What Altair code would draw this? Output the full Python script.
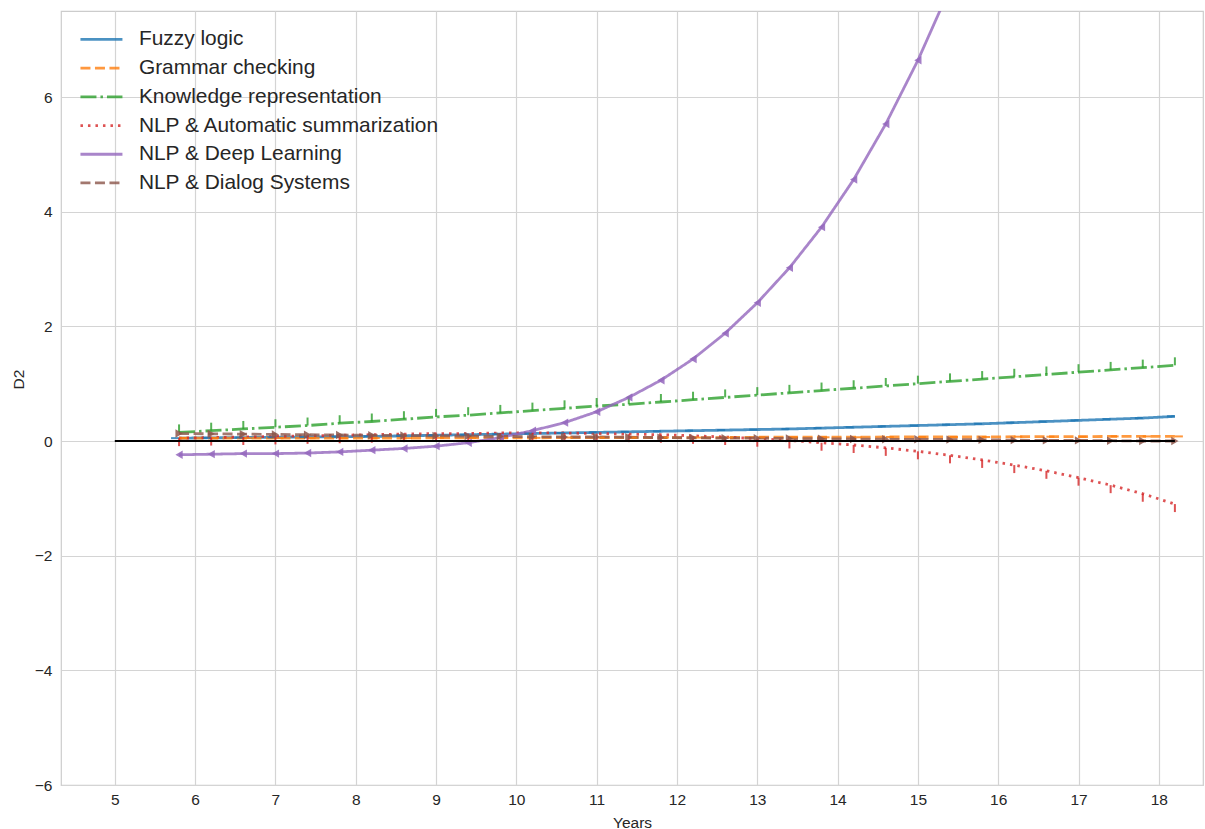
import altair as alt
import pandas as pd

years = [5.8, 6.2, 6.6, 7.0, 7.4, 7.8, 8.2, 8.6, 9.0, 9.4, 9.8, 10.2, 10.6, 11.0, 11.4, 11.8,
         12.2, 12.6, 13.0, 13.4, 13.8, 14.2, 14.6, 15.0, 15.4, 15.8, 16.2, 16.6, 17.0, 17.4, 17.8, 18.2]

series_names = ["Fuzzy logic", "Grammar checking", "Knowledge representation",
                "NLP & Automatic summarization", "NLP & Deep Learning", "NLP & Dialog Systems"]

fuzzy_logic = [0.05, 0.055, 0.06, 0.065, 0.07, 0.075, 0.08, 0.09, 0.10, 0.11, 0.12, 0.13, 0.14, 0.15, 0.16, 0.17,
               0.18, 0.19, 0.20, 0.21, 0.225, 0.24, 0.255, 0.27, 0.285, 0.30, 0.32, 0.34, 0.36, 0.38, 0.40, 0.43]
grammar_checking = [0.05, 0.05, 0.05, 0.05, 0.05, 0.05, 0.05, 0.05, 0.055, 0.055, 0.055, 0.055, 0.06, 0.06, 0.06, 0.06,
                    0.06, 0.06, 0.065, 0.065, 0.065, 0.065, 0.07, 0.07, 0.07, 0.07, 0.075, 0.075, 0.075, 0.08, 0.08, 0.08]
knowledge_repr = [0.15, 0.18, 0.21, 0.24, 0.27, 0.31, 0.34, 0.38, 0.42, 0.45, 0.49, 0.53, 0.57, 0.61, 0.64, 0.68,
                  0.72, 0.76, 0.80, 0.84, 0.88, 0.92, 0.96, 1.00, 1.04, 1.08, 1.12, 1.16, 1.20, 1.24, 1.28, 1.32]
auto_summarization = [0.05, 0.06, 0.07, 0.08, 0.09, 0.10, 0.11, 0.12, 0.13, 0.13, 0.14, 0.14, 0.14, 0.13, 0.12, 0.11,
                      0.09, 0.07, 0.04, 0.01, -0.03, -0.07, -0.12, -0.18, -0.25, -0.33, -0.42, -0.52, -0.64, -0.77, -0.92, -1.10]
deep_learning = [-0.24, -0.23, -0.22, -0.22, -0.21, -0.19, -0.16, -0.13, -0.09, -0.03, 0.06, 0.18, 0.32, 0.51, 0.76, 1.06,
                 1.43, 1.88, 2.41, 3.02, 3.73, 4.56, 5.53, 6.64, 7.90, 9.35, 11.0, 12.9, 15.1, 17.6, 20.5, 23.8]
dialog_systems = [0.13, 0.125, 0.12, 0.115, 0.11, 0.105, 0.10, 0.095, 0.09, 0.085, 0.08, 0.075, 0.07, 0.07, 0.065, 0.06,
                  0.055, 0.05, 0.05, 0.045, 0.04, 0.035, 0.03, 0.03, 0.025, 0.02, 0.015, 0.01, 0.01, 0.005, 0.0, 0.0]

zero_x = [5.0, 18.2]
zero_y = [0.0, 0.0]

x_ticks = list(range(5, 19))
y_ticks = [-6, -4, -2, 0, 2, 4, 6]

colors = ["#1f77b4", "#ff7f0e", "#2ca02c", "#d62728", "#9467bd", "#8c564b"]
dashes = [[1, 0], [10, 4.5], [16, 4, 2.5, 4], [2.5, 5], [1, 0], [10, 4.5]]

all_values = [fuzzy_logic, grammar_checking, knowledge_repr, auto_summarization, deep_learning, dialog_systems]
rows = []
for name, vals in zip(series_names, all_values):
    for yr, v in zip(years, vals):
        rows.append({"Years": yr, "D2": v, "series": name})
df = pd.DataFrame(rows)
zero_df = pd.DataFrame({"Years": zero_x, "D2": zero_y})

FONT = "Liberation Sans"
TXT = "#262626"

xscale = alt.Scale(domain=[4.33, 18.55], nice=False, zero=False)
yscale = alt.Scale(domain=[-6, 7.5], nice=False, zero=False)

xaxis = alt.Axis(values=x_ticks, format="d", title="Years", grid=True, ticks=False, domain=False,
                 labelPadding=7, titleY=37, titleBaseline="middle")
yaxis = alt.Axis(values=y_ticks, format="d", title="D2", grid=True, ticks=False, domain=False,
                 labelPadding=9, titleAngle=270, titleX=-43, titleY=368, titleBaseline="middle",
                 titleAlign="center")

lines = alt.Chart(df).mark_line(strokeWidth=2.8, opacity=0.8, clip=True).encode(
    x=alt.X("Years:Q", scale=xscale, axis=xaxis),
    y=alt.Y("D2:Q", scale=yscale, axis=yaxis),
    color=alt.Color("series:N", scale=alt.Scale(domain=series_names, range=colors),
                    legend=alt.Legend(title=None)),
    strokeDash=alt.StrokeDash("series:N", scale=alt.Scale(domain=series_names, range=dashes),
                              legend=alt.Legend(title=None)),
    order="Years:Q",
)

tick_names = series_names[:4]
tick_shapes = ["M0,0L-1,0", "M0,0L1,0", "M0,0L0,-1", "M0,0L0,1"]
ticks = alt.Chart(df).transform_filter(
    alt.FieldOneOfPredicate(field="series", oneOf=tick_names)
).mark_point(filled=False, strokeWidth=2, opacity=0.8, size=256, clip=True).encode(
    x=alt.X("Years:Q", scale=xscale),
    y=alt.Y("D2:Q", scale=yscale),
    color=alt.Color("series:N", scale=alt.Scale(domain=series_names, range=colors), legend=None),
    shape=alt.Shape("series:N", scale=alt.Scale(domain=tick_names, range=tick_shapes), legend=None),
)

tri_names = series_names[4:]
tris = alt.Chart(df).transform_filter(
    alt.FieldOneOfPredicate(field="series", oneOf=tri_names)
).mark_point(filled=True, opacity=0.85, size=70, clip=True).encode(
    x=alt.X("Years:Q", scale=xscale),
    y=alt.Y("D2:Q", scale=yscale),
    color=alt.Color("series:N", scale=alt.Scale(domain=series_names, range=colors), legend=None),
    shape=alt.Shape("series:N", scale=alt.Scale(domain=tri_names, range=["triangle-left", "triangle-right"]),
                    legend=None),
)

zero_line = alt.Chart(zero_df).mark_line(color="black", strokeWidth=2.2).encode(
    x=alt.X("Years:Q", scale=xscale),
    y=alt.Y("D2:Q", scale=yscale),
)

chart = alt.layer(lines, ticks, tris, zero_line).resolve_scale(shape="independent").properties(
    width=1142, height=774,
    autosize=alt.AutoSizeParams(type="none"),
    padding={"left": 61, "top": 11, "right": 2, "bottom": 44},
).configure_view(
    stroke="#cccccc", strokeWidth=1.2
).configure_axis(
    labelFont=FONT, labelFontSize=15.5, labelColor=TXT,
    titleFont=FONT, titleFontSize=15.5, titleColor=TXT, titleFontWeight="normal",
    gridColor="#d4d4d4", gridWidth=1.2,
).configure_legend(
    orient="none", legendX=30, legendY=18,
    symbolType="M-2.5,0L2.5,0", symbolSize=282, symbolStrokeWidth=2.8, symbolOpacity=0.8,
    labelFont=FONT, labelFontSize=20.9, labelColor=TXT, labelOffset=27,
    rowPadding=6.7, padding=0, labelLimit=0,
)

chart.save("out.html", embed_options={"renderer": "svg", "actions": False})
